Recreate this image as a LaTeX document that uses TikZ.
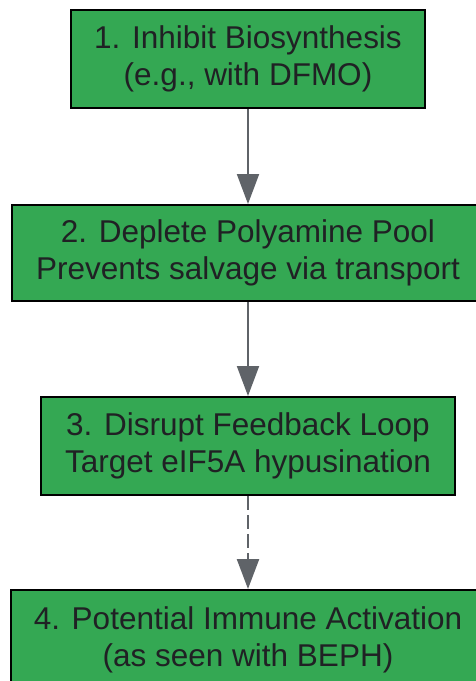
\documentclass[tikz,border=0pt]{standalone}
\usepackage{fontspec}
\setmainfont{Liberation Sans}
\usetikzlibrary{arrows.meta}
\definecolor{boxgreen}{HTML}{34A853}
\definecolor{txt}{HTML}{202124}
\definecolor{arr}{HTML}{5F6368}
\tikzset{
  stepbox/.style={draw=black, line width=2pt, fill=boxgreen, text=txt, align=center,
    font=\fontsize{31.5}{37}\selectfont, inner sep=0pt, anchor=north},
  flow/.style={draw=arr, line width=2pt, -{Triangle[length=30pt,width=22pt]}},
}
\begin{document}
\begin{tikzpicture}[x=1pt,y=-1pt]
\useasboundingbox (0,0) rectangle (476,681);
\clip (0,0) rectangle (476,681);
\node[stepbox, minimum width=354pt, minimum height=98pt] (s1) at (248,9) {1. Inhibit Biosynthesis\\(e.g., with DFMO)};
\node[stepbox, minimum width=472pt, minimum height=96pt] (s2) at (248,204) {2. Deplete Polyamine Pool\\Prevents salvage via transport};
\node[stepbox, minimum width=414pt, minimum height=98pt] (s3) at (248,396) {3. Disrupt Feedback Loop\\Target eIF5A hypusination};
\node[stepbox, minimum width=474pt, minimum height=100pt] (s4) at (248,589) {4. Potential Immune Activation\\(as seen with BEPH)};
\draw[flow] (s1.south) -- (s2.north);
\draw[flow] (s2.south) -- (s3.north);
\draw[flow, line width=2.4pt, dash pattern=on 14pt off 5pt] (s3.south) -- (s4.north);
\end{tikzpicture}
\end{document}
